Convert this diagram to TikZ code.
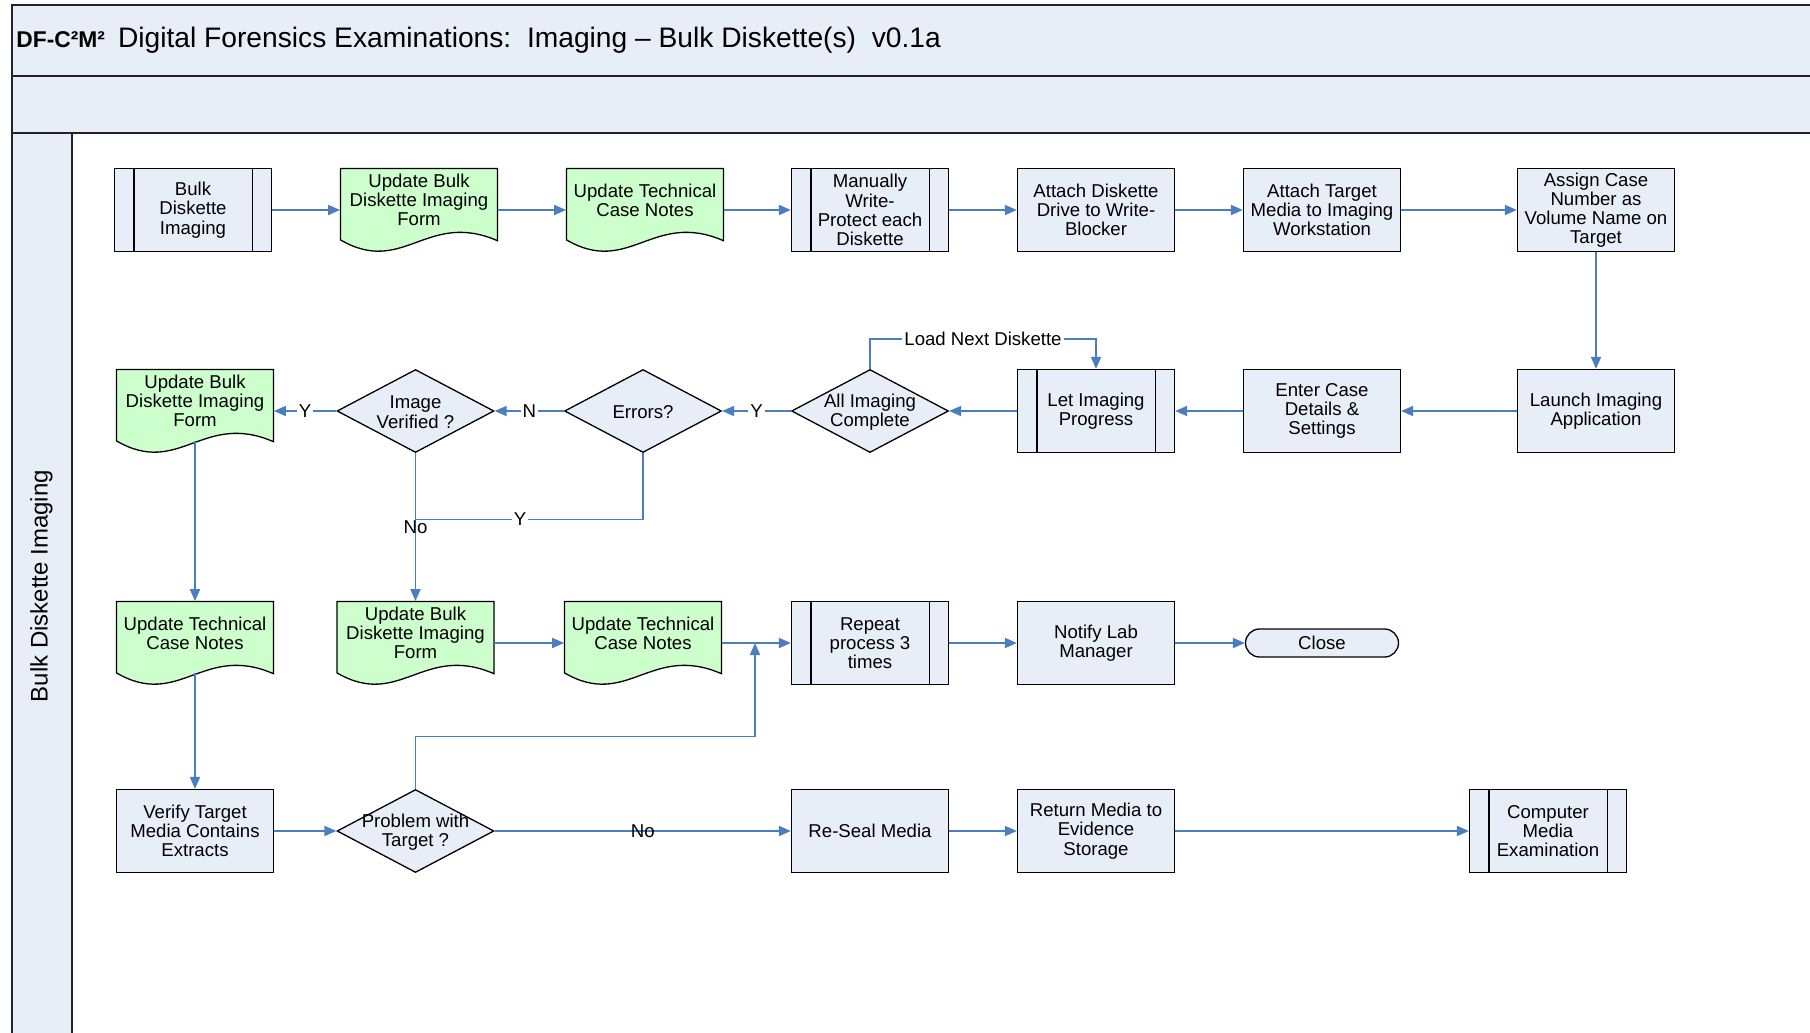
\documentclass[tikz,border=0pt]{standalone}
\usepackage{fontspec}
\setmainfont{Liberation Sans}
\usetikzlibrary{shapes.geometric,shapes.misc,arrows.meta,calc}

\definecolor{paleblue}{RGB}{232,238,247}
\definecolor{palegreen}{RGB}{204,255,204}
\definecolor{flowblue}{RGB}{74,126,193}
\definecolor{rulecol}{RGB}{35,35,35}

\newcommand\boxfont{\fontsize{9.3}{9.6}\selectfont}

\tikzset{
  boxline/.style={draw=black, line width=0.65pt},
  procbox/.style={boxline, fill=paleblue, rectangle, minimum width=78.5pt, minimum height=41.5pt, inner sep=1pt, align=center, font=\boxfont},
  docarea/.style={rectangle, minimum width=78.5pt, minimum height=41.5pt, inner sep=0pt},
  doctext/.style={align=center, font=\boxfont, inner sep=0pt},
  decision/.style={boxline, fill=paleblue, diamond, minimum width=78.5pt, minimum height=41.5pt, inner sep=0pt},
  dtext/.style={align=center, font=\boxfont, inner sep=0pt},
  terminal/.style={boxline, fill=paleblue, rounded rectangle, minimum width=78.5pt, minimum height=14pt, inner sep=1pt, font=\boxfont},
  flow/.style={draw=flowblue, line width=0.9pt, -{Triangle[length=6pt,width=5pt]}},
  link/.style={draw=flowblue, line width=0.9pt},
  lbl/.style={font=\boxfont, fill=white, inner sep=1pt},
  lblclear/.style={font=\boxfont, inner sep=1pt},
  frameline/.style={draw=rulecol, line width=1pt},
}

% document symbol: box with a wavy lower edge, drawn over a named area node
\newcommand\docshape[1]{\path[boxline, fill=palegreen, shift={(#1.center)}]
  (-78.5,-41.5) -- (78.5,-41.5) -- (78.5,30.7)
  .. controls (7.85,0) and (-15.7,66.4) .. (-78.5,29.9) -- cycle;}
% predefined-process symbol: inner vertical bars
\newcommand\sidebars[1]{\draw[boxline]
  ([xshift=10pt]#1.north west) -- ([xshift=10pt]#1.south west)
  ([xshift=-10pt]#1.north east) -- ([xshift=-10pt]#1.south east);}

\begin{document}
\begin{tikzpicture}[x=0.5pt,y=-0.5pt]
\useasboundingbox (0,0) rectangle (1810,1033);
\clip (0,0) rectangle (1810,1033);

% swimlane frame
\fill[paleblue] (11.5,4.6) rectangle (1830,133);
\fill[paleblue] (11.5,133) rectangle (71.6,1050);
\draw[frameline] (1830,4.6) -- (11.5,4.6) -- (11.5,1050);
\draw[frameline] (11.5,76) -- (1830,76);
\draw[frameline] (11.5,133) -- (1830,133);
\draw[frameline] (71.6,133) -- (71.6,1050);

\node[anchor=base west, inner sep=0pt] (title) at (16,47)
  {{\fontsize{11.4}{13}\selectfont\bfseries DF-C²M²}\hspace{6.5pt}{\fontsize{14.1}{16}\selectfont Digital Forensics Examinations:\ \ Imaging – Bulk Diskette(s)\ \ v0.1a}};
\node[rotate=90, font=\fontsize{12}{14}\selectfont] (lane) at (41.5,586) {Bulk Diskette Imaging};

% row 1
\node[procbox] (b11) at (193,210) {Bulk\\Diskette\\Imaging}; \sidebars{b11}
\node[docarea] (d12) at (419,210) {}; \docshape{d12}
\node[doctext] (d12t) at ([yshift=5pt]d12.center) {Update Bulk\\Diskette Imaging\\Form};
\node[docarea] (d13) at (645,210) {}; \docshape{d13}
\node[doctext] (d13t) at ([yshift=5pt]d13.center) {Update Technical\\Case Notes};
\node[procbox] (b14) at (870,210) {Manually\\Write-\\Protect each\\Diskette}; \sidebars{b14}
\node[procbox] (b15) at (1096,210) {Attach Diskette\\Drive to Write-\\Blocker};
\node[procbox] (b16) at (1322,210) {Attach Target\\Media to Imaging\\Workstation};
\node[procbox] (b17) at (1596,210) {Assign Case\\Number as\\Volume Name on\\Target};

% row 2
\node[docarea] (d21) at (195,411) {}; \docshape{d21}
\node[doctext] (d21t) at ([yshift=5pt]d21.center) {Update Bulk\\Diskette Imaging\\Form};
\node[decision] (q22) at (415.5,411) {};
\node[dtext] (q22t) at ([yshift=-0.6pt]q22.center) {Image\\Verified ?};
\node[decision] (q23) at (643,411) {};
\node[dtext] (q23t) at ([yshift=-0.6pt]q23.center) {Errors?};
\node[decision] (q24) at (870,411) {};
\node[dtext] (q24t) at ([yshift=-0.6pt]q24.center) {All Imaging\\Complete};
\node[procbox] (b25) at (1096,411) {Let Imaging\\Progress}; \sidebars{b25}
\node[procbox] (b26) at (1322,411) {Enter Case\\Details \&\\Settings};
\node[procbox] (b27) at (1596,411) {Launch Imaging\\Application};

% row 3
\node[docarea] (d31) at (195,643) {}; \docshape{d31}
\node[doctext] (d31t) at ([yshift=5pt]d31.center) {Update Technical\\Case Notes};
\node[docarea] (d32) at (415.5,643) {}; \docshape{d32}
\node[doctext] (d32t) at ([yshift=5pt]d32.center) {Update Bulk\\Diskette Imaging\\Form};
\node[docarea] (d33) at (643,643) {}; \docshape{d33}
\node[doctext] (d33t) at ([yshift=5pt]d33.center) {Update Technical\\Case Notes};
\node[procbox] (b34) at (870,643) {Repeat\\process 3\\times}; \sidebars{b34}
\node[procbox] (b35) at (1096,643) {Notify Lab\\Manager};
\node[terminal] (close36) at (1322,643) {Close};

% row 4
\node[procbox] (b41) at (195,831) {Verify Target\\Media Contains\\Extracts};
\node[decision] (q42) at (415.5,831) {};
\node[dtext] (q42t) at ([yshift=-0.6pt]q42.center) {Problem with\\Target ?};
\node[procbox] (b44) at (870,831) {Re-Seal Media};
\node[procbox] (b45) at (1096,831) {Return Media to\\Evidence\\Storage};
\node[procbox] (b47) at (1548,831) {Computer\\Media\\Examination}; \sidebars{b47}

% connectors
\coordinate (loop) at (983,339);
\coordinate (join) at (415.5,519.4);
\coordinate (merge) at (755,643);
\coordinate (kink) at (755,736.5);

\draw[flow] (b11.east) -- (d12.west);
\draw[flow] (d12.east) -- (d13.west);
\draw[flow] (d13.east) -- (b14.west);
\draw[flow] (b14.east) -- (b15.west);
\draw[flow] (b15.east) -- (b16.west);
\draw[flow] (b16.east) -- (b17.west);
\draw[flow] (b17.south) -- (b27.north);

\draw[flow] (b27.west) -- (b26.east);
\draw[flow] (b26.west) -- (b25.east);
\draw[flow] (b25.west) -- (q24.east);
\draw[flow] (q24.north) |- (loop) -| (b25.north);
\node[lbl] (loadlbl) at (loop) {Load Next Diskette};
\draw[flow] (q24.west) -- node[lbl] (ylbl1) {Y} (q23.east);
\draw[flow] (q23.west) -- node[lbl] (nlbl1) {N} (q22.east);
\draw[flow] (q22.west) -- node[lbl] (ylbl2) {Y} (d21.east);
\draw[link] (q23.south) |- node[lbl, pos=0.77] (ylbl3) {Y} (join);
\draw[flow] (q22.south) -- node[lblclear, pos=0.5] (nolbl1) {No} (d32.north);

\draw[flow] ($(d21.north)!0.86!(d21.south)$) -- (d31.north);
\draw[flow] ($(d31.north)!0.86!(d31.south)$) -- (b41.north);

\draw[flow] (d32.east) -- (d33.west);
\draw[flow] (d33.east) -- (b34.west);
\draw[flow] (b34.east) -- (b35.west);
\draw[flow] (b35.east) -- (close36.west);

\draw[flow] (b41.east) -- (q42.west);
\draw[flow] (q42.north) |- (kink) -- (merge);
\draw[flow] (q42.east) -- node[lblclear] (nolbl2) {No} (b44.west);
\draw[flow] (b44.east) -- (b45.west);
\draw[flow] (b45.east) -- (b47.west);
\end{tikzpicture}
\end{document}
